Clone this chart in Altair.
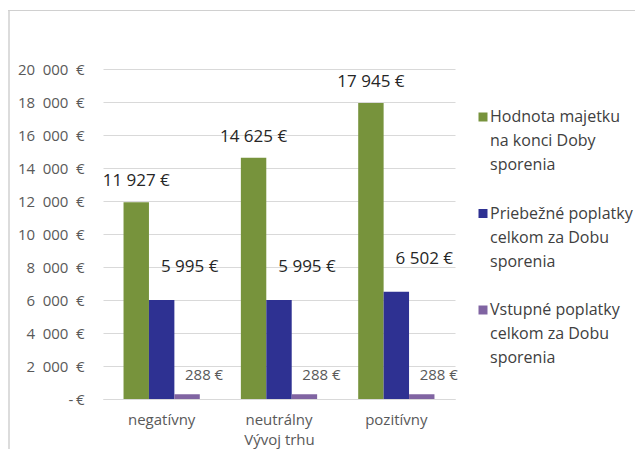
import altair as alt
import pandas as pd

categories = ["negatívny", "neutrálny", "pozitívny"]
series = [
    "Hodnota majetku na konci Doby sporenia",
    "Priebežné poplatky celkom za Dobu sporenia",
    "Vstupné poplatky celkom za Dobu sporenia",
]
legend_labels = [
    "Hodnota majetku\nna konci Doby\nsporenia",
    "Priebežné poplatky\ncelkom za Dobu\nsporenia",
    "Vstupné poplatky\ncelkom za Dobu\nsporenia",
]
hodnota = [11927, 14625, 17945]
priebezne = [5995, 5995, 6502]
vstupne = [288, 288, 288]
colors = ["#77933C", "#2E3192", "#8064A2"]
y_ticks = [0, 2000, 4000, 6000, 8000, 10000, 12000, 14000, 16000, 18000, 20000]

rows = []
for vals, s in zip([hodnota, priebezne, vstupne], series):
    for c, v in zip(categories, vals):
        rows.append({"trh": c, "series": s, "value": v})
df = pd.DataFrame(rows)
leg_df = pd.DataFrame({"series": series, "label": legend_labels})

FONT = "Open Sans"
color_scale = alt.Scale(domain=series, range=colors)
yscale = alt.Scale(domain=[0, 20000])
xscale = alt.Scale(paddingInner=0.35, paddingOuter=0.175)

x_axis = alt.Axis(
    title="Vývoj trhu",
    labelAngle=0,
    labelFontSize=15,
    labelColor="#595959",
    labelFont=FONT,
    labelPadding=13,
    titleFontSize=15,
    titleColor="#595959",
    titleFont=FONT,
    titleFontWeight="normal",
    titlePadding=5,
    ticks=False,
    domainColor="#d9d9d9",
    grid=False,
)
y_axis = alt.Axis(
    title=None,
    values=y_ticks,
    labelExpr="datum.value == 0 ? '-\u2009€' : replace(format(datum.value, ',d'), ',', '\u2002') + '\u2002€'",
    labelFontSize=15,
    labelColor="#595959",
    labelFont=FONT,
    labelPadding=19,
    labelOverlap=False,
    ticks=False,
    domain=False,
    grid=True,
    gridColor="#d9d9d9",
)

base = alt.Chart(df).transform_calculate(
    lab="replace(format(datum.value, ',d'), ',', ' ') + ' €'"
)

x_enc = alt.X("trh:N", sort=categories, scale=xscale, axis=x_axis)
y_enc = alt.Y("value:Q", scale=yscale, axis=y_axis)
xo = alt.XOffset("series:N", sort=series)

bars = base.mark_bar().encode(
    x=x_enc,
    xOffset=xo,
    y=y_enc,
    color=alt.Color("series:N", scale=color_scale, legend=None),
)

def labels(s, dx, dy, size, col):
    return base.transform_filter(alt.datum.series == s).mark_text(
        dx=dx, dy=dy, fontSize=size, color=col, font=FONT, baseline="middle"
    ).encode(
        x=x_enc,
        xOffset=xo,
        y=y_enc,
        text="lab:N",
    )

lab1 = labels(series[0], 0, -21, 17, "#262626")
lab2 = labels(series[1], 28, -33, 17, "#262626")
lab3 = labels(series[2], 17, -19, 15, "#595959")

main = alt.layer(bars, lab1, lab2, lab3)

leg_y = alt.Y("series:N", sort=series, scale=alt.Scale(type="point", domain=series, range=[48, 241], padding=0), axis=None)
leg_sq = alt.Chart(leg_df).mark_square(size=81, opacity=1).encode(
    x=alt.value(380),
    y=leg_y,
    color=alt.Color("series:N", scale=color_scale, legend=None),
)
leg_tx = alt.Chart(leg_df).mark_text(
    align="left", baseline="top", dy=-8, lineBreak="\n", lineHeight=24,
    fontSize=16, font=FONT, color="#404040",
).encode(
    x=alt.value(387),
    y=leg_y,
    text="label:N",
)
legend = alt.layer(leg_sq, leg_tx)

frame_df = pd.DataFrame({"a": [0]})
frame_top = alt.Chart(frame_df).mark_rule(color="#d0d0d0", strokeWidth=1).encode(
    x=alt.value(-95), x2=alt.value(545), y=alt.value(-58.5)
)
frame_left = alt.Chart(frame_df).mark_rule(color="#d0d0d0", strokeWidth=1.5).encode(
    x=alt.value(-94), y=alt.value(-59), y2=alt.value(400)
)

chart = alt.layer(main, legend, frame_top, frame_left).resolve_scale(
    y="independent", x="independent"
).properties(
    width=352,
    height=330,
    autosize=alt.AutoSizeParams(type="none"),
    padding={"left": 95, "top": 61, "right": 180, "bottom": 50},
).configure_view(stroke=None)

chart.save("out.html", embed_options={"renderer": "svg", "actions": False})
